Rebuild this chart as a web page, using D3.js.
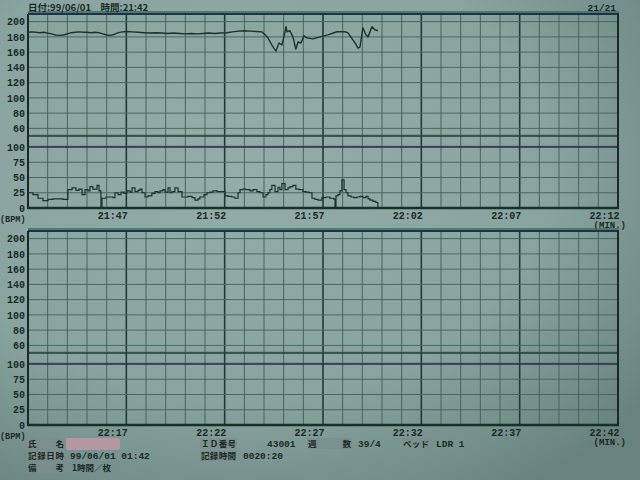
<!DOCTYPE html>
<html><head><meta charset="utf-8">
<script src="https://cdn.jsdelivr.net/npm/d3@7/dist/d3.min.js"></script>
<style>body{margin:0;background:#8aa3a0;}svg{display:block}</style>
</head><body><svg id="c" width="640" height="480"></svg>
<script>
// ---------- data ----------
const headerText = "日付:99/06/01　時間:21:42";
const pageText = "21/21";
const panelStartTimes = ["21:42", "22:12"];
const fhrTicks = [60, 80, 100, 120, 140, 160, 180, 200];
const uaTicks = [0, 25, 50, 75, 100];
const timeTickMinutes = [5, 10, 15, 20, 25, 30];

// fetal heart rate (minutes after 21:42, bpm)
const fhrMin = [0,0.2,0.4,0.6,0.8,1.0,1.2,1.4,1.6,1.8,2.0,2.2,2.4,2.6,2.8,3.0,3.2,3.4,3.6,3.8,4.0,4.2,4.4,4.6,4.8,5.0,5.3,5.6,5.9,6.2,6.5,6.8,7.1,7.4,7.7,8.0,8.3,8.6,8.9,9.2,9.5,9.8,10.1,10.4,10.7,11.0,11.3,11.6,11.9,
  12.05,12.2,12.4,12.51,12.61,12.76,12.91,13.01,13.12,13.17,13.32,13.47,13.62,13.73,13.88,14.03,14.18,14.49,14.85,15.25,15.71,16.12,16.27,16.52,16.68,16.78,16.88,17.03,17.18,17.29,17.49,17.64,17.79];
const fhrBpm = [186,186.5,186,185.5,186,185,184,182.5,182,182.5,184,185.5,186,186.5,186,186,185.5,186,185.5,184,182.5,182,183.5,185.5,186.5,187,186.5,186,185.5,185,185.5,185,184.5,185,184.5,184,184.5,184,184.5,185,184.5,185,185.5,186.5,187.5,188,187.5,187,186.5,
  183,178.7,169.3,165,161.3,172,169.3,180,193.3,186.7,188,180,164,173.3,172,181.3,178.7,177.3,180,182.7,186.7,186.7,185.3,176,170,165.3,166.7,192,182.7,180,193.3,189.3,188];

// uterine activity (minutes after 21:42, value)
const uaMin = [0,0.25,0.51,0.76,1.02,1.27,1.53,1.78,1.93,2.03,2.24,2.44,2.59,2.75,2.90,3.05,3.15,3.30,3.51,3.61,3.71,3.76,3.97,4.17,4.32,4.42,4.58,4.73,4.88,5.03,5.19,5.29,5.44,5.59,5.69,5.80,5.95,6.10,6.30,6.46,6.61,6.71,6.86,6.97,7.12,7.22,7.32,7.47,7.63,7.83,7.98,8.13,8.34,8.49,8.64,8.74,8.95,9.10,9.25,9.41,9.61,9.76,10.02,10.17,10.37,10.52,10.68,10.78,10.93,11.08,11.29,11.44,11.64,11.79,11.95,12.10,12.20,12.30,12.40,12.56,12.71,12.81,12.91,13.07,13.22,13.32,13.47,13.62,13.78,13.98,14.13,14.29,14.44,14.59,14.74,14.95,15.15,15.35,15.56,15.61,15.66,15.76,15.86,15.96,16.07,16.17,16.27,16.42,16.57,16.73,16.88,17.03,17.18,17.29,17.39,17.54,17.69,17.79];
const uaVal = [25,22,16,12,14,15,15,14,14,30,33,29,31,22,30,28,35,31,37,28,0,16,18,18,17,25,22,26,24,28,26,33,27,29,31,25,18,20,24,27,25,28,30,26,33,25,27,33,27,18,18,19,17,13,15,18,22,25,26,28,27,27,20,19,18,16,25,30,31,30,28,30,27,25,18,22,25,30,37,27,34,30,40,30,33,35,37,31,30,27,26,25,16,14,13,17,18,16,14,0,20,22,28,46,30,25,20,18,17,18,19,17,19,15,13,11,9,0];

// footer information
const infoLabels = ["氏　　名", "ＩＤ番号", "週　　数", "ベッド", "記録日時", "記録時間", "備　　考"];
const infoValues = ["", "43001", "39/4", "LDR 1", "99/06/01 01:42", "0020:20", "1時間／枚"];

// ---------- drawing ----------
const W = 640, H = 480;
const svg = d3.select("#c");
const defs = svg.append("defs");
const rg = defs.append("radialGradient").attr("id", "paper")
  .attr("cx", "38%").attr("cy", "35%").attr("r", "80%");
rg.append("stop").attr("offset", "0%").attr("stop-color", "#95adaa");
rg.append("stop").attr("offset", "60%").attr("stop-color", "#89a3a0");
rg.append("stop").attr("offset", "100%").attr("stop-color", "#68837f");
svg.append("rect").attr("width", W).attr("height", H).attr("fill", "url(#paper)");

const ink = "#1b2a28";
const monoFont = "'Liberation Mono','DejaVu Sans Mono',monospace";
const cjkFont = "'Noto Sans CJK JP','Liberation Mono',sans-serif";

const x = d3.scaleLinear().domain([0, 30]).range([28, 618]);
const fhrY = d3.scaleLinear().domain([50, 210]).range([136, 14]);
const uaY = d3.scaleLinear().domain([0, 100]).range([208, 147]);
const panelOffsets = [0, 217];

function hm(start, add) {
  const [h, m] = start.split(":").map(Number);
  const t = h * 60 + m + add;
  return String(Math.floor(t / 60) % 24).padStart(2, "0") + ":" + String(t % 60).padStart(2, "0");
}

panelOffsets.forEach((off, pi) => {
  const g = svg.append("g").attr("transform", `translate(0,${off})`);
  const yTop = fhrY(210), yBot = uaY(0);
  g.selectAll(".vminor").data(d3.range(1, 30).filter(d => d % 5 !== 0)).join("line")
    .attr("x1", d => x(d)).attr("x2", d => x(d)).attr("y1", yTop).attr("y2", yBot)
    .attr("stroke", "#48635f").attr("stroke-width", 1);
  g.selectAll(".vmajor").data([5, 10, 15, 20, 25]).join("line")
    .attr("x1", d => x(d)).attr("x2", d => x(d)).attr("y1", yTop).attr("y2", yBot)
    .attr("stroke", "#22393a").attr("stroke-width", 1.6);
  g.selectAll(".hf").data(fhrTicks).join("line")
    .attr("x1", x(0)).attr("x2", x(30)).attr("y1", d => fhrY(d)).attr("y2", d => fhrY(d))
    .attr("stroke", d => d === 200 ? "#3f6a55" : "#4b6662").attr("stroke-width", 1);
  g.selectAll(".hu").data([25, 50, 75]).join("line")
    .attr("x1", x(0)).attr("x2", x(30)).attr("y1", d => uaY(d)).attr("y2", d => uaY(d))
    .attr("stroke", "#4b6662").attr("stroke-width", 1);
  g.append("line").attr("x1", x(0)).attr("x2", x(30)).attr("y1", uaY(100) - 1).attr("y2", uaY(100) - 1)
    .attr("stroke", "#7a5f78").attr("stroke-width", 0.6);
  g.append("line").attr("x1", x(0)).attr("x2", x(30)).attr("y1", uaY(100)).attr("y2", uaY(100))
    .attr("stroke", "#252c40").attr("stroke-width", 1.4);
  g.append("line").attr("x1", x(0)).attr("x2", x(30)).attr("y1", fhrY(50) - 1).attr("y2", fhrY(50) - 1)
    .attr("stroke", "#6a5470").attr("stroke-width", 0.6);
  g.append("line").attr("x1", x(0)).attr("x2", x(30)).attr("y1", fhrY(50)).attr("y2", fhrY(50))
    .attr("stroke", "#1d4232").attr("stroke-width", 1.5);
  g.append("line").attr("x1", x(0)).attr("x2", x(30) + 1).attr("y1", yTop - 2).attr("y2", yTop - 2)
    .attr("stroke", "#2e7a3e").attr("stroke-width", 1.5);
  g.append("line").attr("x1", x(0)).attr("x2", x(30) + 1).attr("y1", yTop).attr("y2", yTop)
    .attr("stroke", "#262c5a").attr("stroke-width", 1.8);
  g.append("line").attr("x1", x(0)).attr("x2", x(0)).attr("y1", yTop).attr("y2", yBot + 1)
    .attr("stroke", "#1a2826").attr("stroke-width", 2);
  g.append("line").attr("x1", x(30)).attr("x2", x(30)).attr("y1", yTop).attr("y2", yBot + 1)
    .attr("stroke", "#1a2826").attr("stroke-width", 2);
  g.append("line").attr("x1", x(0)).attr("x2", x(30) + 1).attr("y1", yBot).attr("y2", yBot)
    .attr("stroke", "#17302a").attr("stroke-width", 2.4);

  const axF = g.append("g").attr("transform", `translate(${x(0)},0)`)
    .call(d3.axisLeft(fhrY).tickValues(fhrTicks).tickSize(0).tickPadding(3));
  const axU = g.append("g").attr("transform", `translate(${x(0)},0)`)
    .call(d3.axisLeft(uaY).tickValues(uaTicks).tickSize(0).tickPadding(3));
  [axF, axU].forEach(a => {
    a.select(".domain").remove();
    a.selectAll("text").attr("fill", ink).attr("font-family", monoFont)
      .attr("font-size", 10).attr("font-weight", "bold");
  });
  const axX = g.append("g").attr("transform", `translate(0,${yBot})`)
    .call(d3.axisBottom(x).tickValues(timeTickMinutes).tickSize(0)
      .tickFormat(d => hm(panelStartTimes[pi], d)));
  axX.select(".domain").remove();
  axX.selectAll("text").attr("fill", ink).attr("font-family", monoFont)
    .attr("font-size", 10).attr("font-weight", "bold")
    .attr("text-anchor", "end").attr("x", 1).attr("y", 10.5).attr("dy", 0);
  g.append("text").attr("x", 0).attr("y", yBot + 13.5).text("(BPM)")
    .attr("fill", ink).attr("font-family", monoFont).attr("font-size", 8.5).attr("font-weight", "bold");
  g.append("text").attr("x", 626).attr("y", yBot + 20).text("(MIN.)").attr("text-anchor", "end")
    .attr("fill", ink).attr("font-family", monoFont).attr("font-size", 9).attr("font-weight", "bold");
});

// traces
const fhrData = fhrMin.map((t, i) => ({ t, v: fhrBpm[i] }));
const uaData = uaMin.map((t, i) => ({ t, v: uaVal[i] }));
svg.append("path").datum(fhrData)
  .attr("d", d3.line().x(d => x(d.t)).y(d => fhrY(d.v)).curve(d3.curveLinear))
  .attr("fill", "none").attr("stroke", "#1d302c").attr("stroke-width", 1.4).attr("stroke-linejoin", "round");
svg.append("path").datum(uaData)
  .attr("d", d3.line().x(d => x(d.t)).y(d => uaY(d.v)).curve(d3.curveStepAfter))
  .attr("fill", "none").attr("stroke", "#1d302c").attr("stroke-width", 1.2);

// header
svg.append("text").attr("x", 28).attr("y", 10.5).text(headerText)
  .attr("fill", ink).attr("font-family", cjkFont).attr("font-size", 9.5).attr("font-weight", "bold");
svg.append("text").attr("x", 616).attr("y", 11).text(pageText).attr("text-anchor", "end")
  .attr("fill", ink).attr("font-family", monoFont).attr("font-size", 9.5).attr("font-weight", "bold");

// footer
const labelPos = [[27, 447], [200, 447], [307, 447], [402, 447], [27, 459], [200, 459], [27, 471]];
const labelW = [38, 37, 45, 28, 38, 37, 38];
const valuePos = [[0, 0], [267, 447], [358, 447], [436, 447], [70, 459], [243, 459], [72, 471]];
infoLabels.forEach((lab, i) => {
  svg.append("rect").attr("x", labelPos[i][0]).attr("y", labelPos[i][1] - 9)
    .attr("width", labelW[i]).attr("height", 11).attr("fill", "#7c8f8d").attr("opacity", 0.8);
  svg.append("text").attr("x", labelPos[i][0] + 1).attr("y", labelPos[i][1]).text(lab)
    .attr("textLength", labelW[i] - 2).attr("lengthAdjust", "spacing")
    .attr("fill", ink).attr("font-family", cjkFont).attr("font-size", 8.5).attr("font-weight", "bold");
  if (infoValues[i]) {
    const isCjk = /[^\x00-\x7f]/.test(infoValues[i]);
    svg.append("text").attr("x", valuePos[i][0]).attr("y", valuePos[i][1]).text(infoValues[i])
      .attr("fill", ink).attr("font-family", isCjk ? cjkFont : monoFont)
      .attr("font-size", isCjk ? 8.5 : 9.5).attr("font-weight", "bold");
  }
});
svg.append("rect").attr("x", 66).attr("y", 438).attr("width", 54).attr("height", 12)
  .attr("fill", "#b497a3").attr("rx", 2);
</script></body></html>
